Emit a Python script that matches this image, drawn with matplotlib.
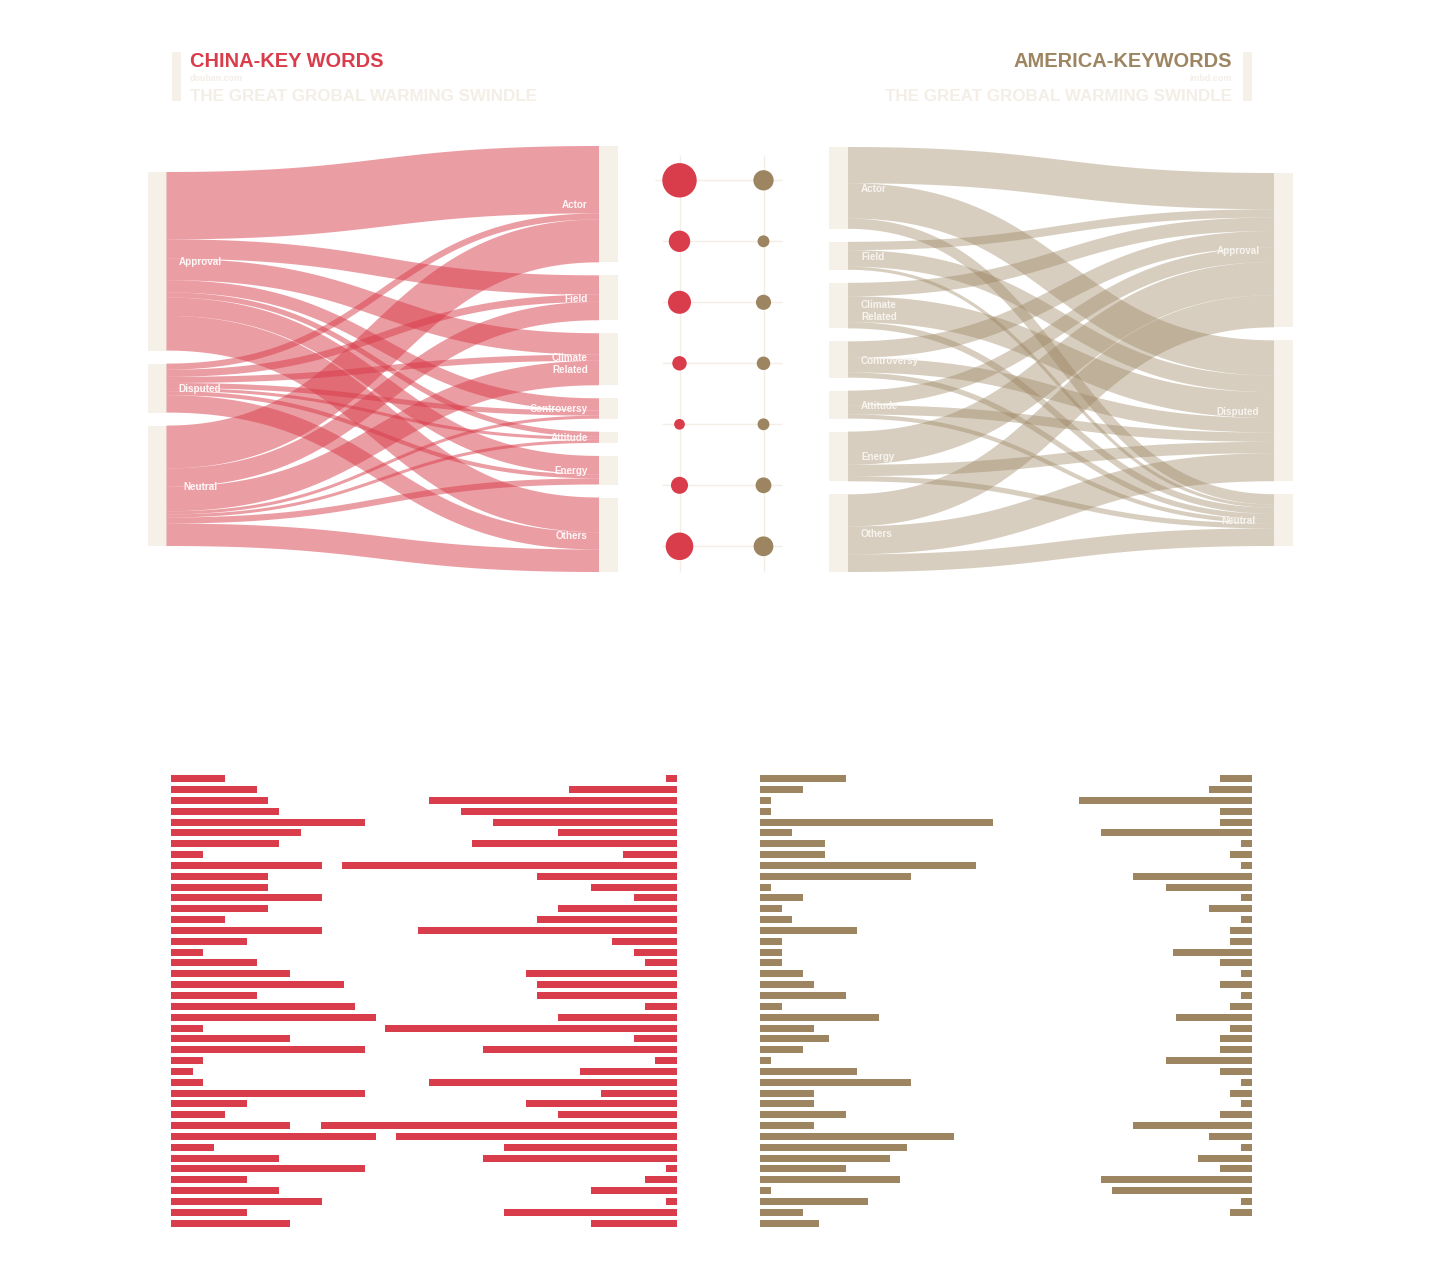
import numpy as np
import matplotlib
matplotlib.use("Agg")
import matplotlib.pyplot as plt
from matplotlib.patches import Rectangle, Circle, Polygon

# ---------------- data ----------------
stances = ["Approval", "Disputed", "Neutral"]
topics = ["Actor", "Field", "Climate\nRelated", "Controversy", "Attitude", "Energy", "Others"]

# China (douban.com): flow from each stance to each topic
china_approval = [66, 19, 21, 12, 5, 18, 34]
china_disputed = [6, 7, 6, 5, 3, 4, 17]
china_neutral = [42, 18, 24, 3, 3, 6, 22]

# America (imbd.com): flow from each topic to each stance
us_approval = [35, 8, 13, 16, 14, 32, 31]
us_disputed = [34, 16, 25, 14, 9, 11, 27]
us_neutral = [10, 3, 6, 5, 4, 5, 17]

# keyword bars (42 rows each)
china_left_bars = [5, 8, 9, 10, 18, 12, 10, 3, 14, 9, 9, 14, 9, 5, 14, 7, 3, 8, 11, 16, 8,
                   17, 19, 3, 11, 18, 3, 2, 3, 18, 7, 5, 11, 19, 4, 10, 18, 7, 10, 14, 7, 11]
china_right_bars = [1, 10, 23, 20, 17, 11, 19, 5, 31, 13, 8, 4, 11, 13, 24, 6, 4, 3, 14, 13, 13,
                    3, 11, 27, 4, 18, 2, 9, 23, 7, 14, 11, 33, 26, 16, 18, 1, 3, 8, 1, 16, 8]
us_left_bars = [8, 4, 1, 1, 21.6, 3, 6, 6, 20, 14, 1, 4, 2, 3, 9, 2, 2, 2, 4, 5,
                8, 2, 11, 5, 6.4, 4, 1, 9, 14, 5, 5, 8, 5, 18, 13.6, 12, 8, 13, 1, 10, 4, 5.5]
us_right_bars = [3, 4, 16, 3, 3, 14, 1, 2, 1, 11, 8, 1, 4, 1, 2, 2, 7.3, 3, 1, 3,
                 1, 2, 7, 2, 3, 3, 8, 3, 1, 2, 1, 3, 11, 4, 1, 5, 3, 14, 13, 1, 2, 0]

# ---------------- style ----------------
RED = "#d93c4a"
GOLD = "#9c8560"
BEIGE = "#f5f1e9"
LIGHT = "#f3eee6"
FONT = ["Liberation Sans", "DejaVu Sans"]

fig = plt.figure(figsize=(14.4, 12.72), dpi=100)
ax = fig.add_axes([0, 0, 1, 1])
ax.set_xlim(0, 1440)
ax.set_ylim(1272, 0)
ax.set_aspect("equal")
ax.axis("off")


def link_poly(x0, y0, x1, y1, w, n=90):
    t = np.linspace(0, 1, n)
    xm = (x0 + x1) / 2
    bx = (1 - t) ** 3 * x0 + 3 * (1 - t) ** 2 * t * xm + 3 * (1 - t) * t ** 2 * xm + t ** 3 * x1
    by = (1 - t) ** 3 * y0 + 3 * (1 - t) ** 2 * t * y0 + 3 * (1 - t) * t ** 2 * y1 + t ** 3 * y1
    dx = 3 * (1 - t) ** 2 * (xm - x0) + 3 * t ** 2 * (x1 - xm)
    dy = 6 * (1 - t) * t * (y1 - y0)
    L = np.hypot(dx, dy)
    nx, ny = -dy / L, dx / L
    up = np.c_[bx + nx * w / 2, by + ny * w / 2]
    lo = np.c_[bx - nx * w / 2, by - ny * w / 2]
    return np.vstack([up, lo[::-1]])


def column(totals, k, pad, top, bottom):
    h = np.array(totals) * k
    full = h.sum() + (len(h) - 1) * pad
    y = (top + bottom) / 2 - full / 2
    ys = []
    for hi in h:
        ys.append(y)
        y += hi + pad
    return np.array(ys), h


def sankey(flows, src_names, dst_names, x_src, x_dst, node_w, top, bottom, pad,
           color, alpha, label_color, src_label, dst_label):
    flows = np.array(flows, dtype=float)
    src_tot = flows.sum(axis=1)
    dst_tot = flows.sum(axis=0)
    nmax = max(len(src_tot), len(dst_tot))
    k = (bottom - top - (nmax - 1) * pad) / flows.sum()
    sy, sh = column(src_tot, k, pad, top, bottom)
    dy, dh = column(dst_tot, k, pad, top, bottom)
    for y, h in zip(sy, sh):
        ax.add_patch(Rectangle((x_src, y), node_w, h, color=BEIGE, lw=0, zorder=1))
    for y, h in zip(dy, dh):
        ax.add_patch(Rectangle((x_dst, y), node_w, h, color=BEIGE, lw=0, zorder=1))
    s_off = sy.copy()
    d_off = dy.copy()
    starts = {}
    for i in range(flows.shape[0]):
        for j in range(flows.shape[1]):
            w = flows[i, j] * k
            starts[(i, j)] = s_off[i] + w / 2
            s_off[i] += w
    for j in range(flows.shape[1]):
        for i in range(flows.shape[0]):
            w = flows[i, j] * k
            yd = d_off[j] + w / 2
            d_off[j] += w
            if w <= 0:
                continue
            poly = link_poly(x_src + node_w, starts[(i, j)], x_dst, yd, w)
            ax.add_patch(Polygon(poly, closed=True, facecolor=color, alpha=alpha,
                                 lw=0, zorder=2))

    def put(names, ys, hs, mode, xnode):
        for name, y, h in zip(names, ys, hs):
            yc = y + h / 2 + (5 if "\n" in name else 1)
            ax.text(xnode, yc, name, ha=mode, va="center", fontsize=7.1,
                    fontweight="bold", color=label_color, family=FONT,
                    linespacing=1.25, zorder=5)
    put(src_names, sy, sh, src_label[0], src_label[1])
    put(dst_names, dy, dh, dst_label[0], dst_label[1])
    return dst_tot if len(dst_tot) > len(src_tot) else src_tot


# China sankey: stances (left) -> topics (right)
china_flows = np.array([china_approval, china_disputed, china_neutral])
china_tot = sankey(china_flows, stances, topics, 147.5, 599, 19, 146, 572, 13,
                   RED, 0.5, "#fff6f6", ("center", 200), ("right", 588))

# US sankey: topics (left) -> stances (right)
us_flows = np.array([us_approval, us_disputed, us_neutral]).T
us_tot = sankey(us_flows, topics, stances, 829, 1274, 19, 147, 572, 13,
                GOLD, 0.4, "#f7f3ee", ("left", 861), ("center", 1238))

# ---------------- dot comparison column ----------------
row_y = 180.3 + 61 * np.arange(len(topics))
cx_china, cx_us = 679.5, 763.5
for x in (cx_china, cx_us):
    ax.plot([x, x], [155, 572], color=LIGHT, lw=1, zorder=1, solid_capstyle="butt")
for i, y in enumerate(row_y):
    ax.plot([655 if i == 0 else 662, 782], [y, y], color=LIGHT, lw=1, zorder=1,
            solid_capstyle="butt")
for y, v in zip(row_y, china_tot):
    ax.add_patch(Circle((cx_china, y), np.sqrt(2.6 * v), color=RED, lw=0, zorder=3))
for y, v in zip(row_y, us_tot):
    ax.add_patch(Circle((cx_us, y), np.sqrt(1.3 * v), color=GOLD, lw=0, zorder=3))

# ---------------- keyword bars ----------------
unit = 10.8
bar_y = 778.7 + 10.84 * np.arange(len(china_left_bars))
cl = np.array(china_left_bars) * unit
cr = np.array(china_right_bars) * unit
ul = np.array(us_left_bars) * unit
ur = np.array(us_right_bars) * unit
ax.barh(bar_y, cl, left=171, height=7, color=RED, lw=0)
ax.barh(bar_y, cr, left=677 - cr, height=7, color=RED, lw=0)
ax.barh(bar_y, ul, left=760, height=7, color=GOLD, lw=0)
ax.barh(bar_y, ur, left=1252 - ur, height=7, color=GOLD, lw=0)

# ---------------- titles ----------------
ax.add_patch(Rectangle((172, 52), 9, 49, color=BEIGE, lw=0))
ax.add_patch(Rectangle((1243, 52), 9, 49, color=BEIGE, lw=0))
ax.text(190, 67, "CHINA-KEY WORDS", ha="left", va="baseline", fontsize=14.4,
        fontweight="bold", color=RED, family=FONT)
ax.text(190, 81, "douban.com", ha="left", va="baseline", fontsize=6.4,
        fontweight="bold", color=LIGHT, family=FONT)
ax.text(190, 101, "THE GREAT GROBAL WARMING SWINDLE", ha="left", va="baseline",
        fontsize=12.25, fontweight="bold", color=LIGHT, family=FONT)
ax.text(1232, 67, "AMERICA-KEYWORDS", ha="right", va="baseline", fontsize=14.4,
        fontweight="bold", color=GOLD, family=FONT)
ax.text(1232, 81, "imbd.com", ha="right", va="baseline", fontsize=6.4,
        fontweight="bold", color=LIGHT, family=FONT)
ax.text(1232, 101, "THE GREAT GROBAL WARMING SWINDLE", ha="right", va="baseline",
        fontsize=12.25, fontweight="bold", color=LIGHT, family=FONT)

fig.savefig("out.png", dpi=100, facecolor="white")
